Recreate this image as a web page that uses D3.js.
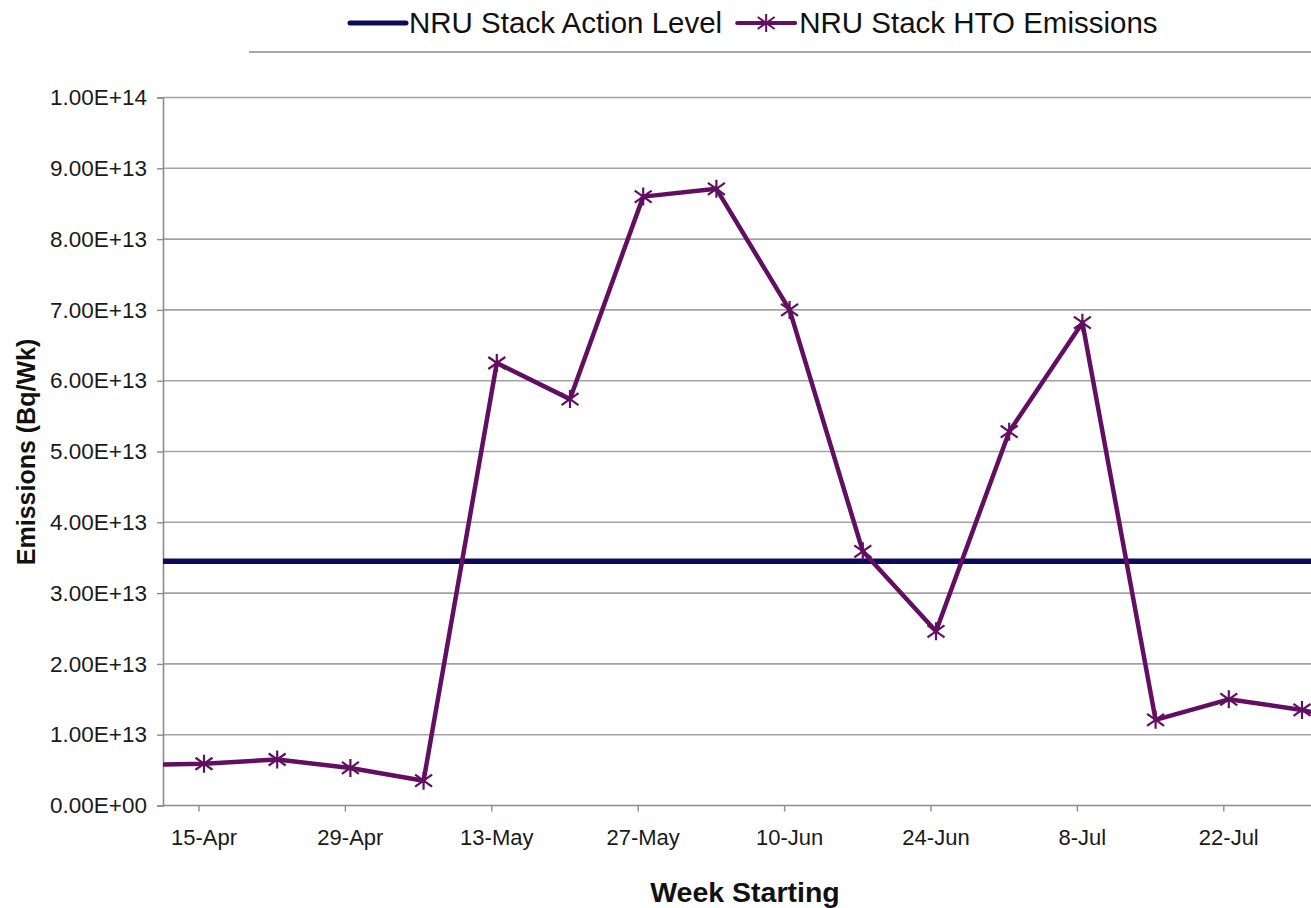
<!DOCTYPE html>
<html>
<head>
<meta charset="utf-8">
<script src="https://cdn.jsdelivr.net/npm/d3@7"></script>
<style>
  html, body { margin: 0; padding: 0; background: #fff; }
  svg { display: block; font-family: "Liberation Sans", Arial, sans-serif; }
</style>
</head>
<body>
<svg id="chart" width="1311" height="908"></svg>
<script>
// week starting dates (first and last fall outside the visible plot)
var weeks = ["8-Apr", "15-Apr", "22-Apr", "29-Apr", "6-May", "13-May", "20-May", "27-May",
  "3-Jun", "10-Jun", "17-Jun", "24-Jun", "1-Jul", "8-Jul", "15-Jul", "22-Jul", "29-Jul", "5-Aug"];
// NRU stack HTO emissions, Bq/week
var htoEmissions = [0.57e13, 0.59e13, 0.65e13, 0.53e13, 0.35e13, 6.25e13, 5.74e13, 8.60e13,
  8.71e13, 7.00e13, 3.59e13, 2.46e13, 5.28e13, 6.82e13, 1.21e13, 1.50e13, 1.35e13, 1.10e13];
var actionLevel = 3.45e13;
var yTicks = [0, 1e13, 2e13, 3e13, 4e13, 5e13, 6e13, 7e13, 8e13, 9e13, 1e14];
var labelledWeeks = ["15-Apr", "29-Apr", "13-May", "27-May", "10-Jun", "24-Jun", "8-Jul", "22-Jul"];

var svg = d3.select("#chart");
var pLeft = 163, pRight = 1311, pTop = 97.5, pBottom = 805.5;
var purple = "#620f62", navy = "#0b0b5a", grid = "#a3a3a3";

// visible window of the category axis (chart is cropped at both ends)
var x = d3.scaleLinear().domain([0.44, 16.123]).range([pLeft, pRight]);
var y = d3.scaleLinear().domain([0, 1e14]).range([pBottom, pTop]);

function sci(v) {
  if (v == 0) return "0.00E+00";
  var e = Math.floor(Math.log10(v) + 1e-9);
  return (v / Math.pow(10, e)).toFixed(2) + "E+" + (e < 10 ? "0" : "") + e;
}

svg.append("defs").append("clipPath").attr("id", "plot")
  .append("rect").attr("x", pLeft).attr("y", pTop - 20).attr("width", pRight - pLeft).attr("height", pBottom - pTop + 20);

// gridlines
svg.append("g").selectAll("line").data(yTicks.slice(1)).enter().append("line")
  .attr("x1", pLeft).attr("x2", pRight)
  .attr("y1", function (d) { return y(d); }).attr("y2", function (d) { return y(d); })
  .style("stroke", grid).style("stroke-width", 1.6);

// y axis
var yAxis = svg.append("g").attr("transform", "translate(" + pLeft + ",0)")
  .call(d3.axisLeft(y).tickValues(yTicks).tickFormat(sci).tickSize(6).tickPadding(10));
yAxis.select(".domain").style("stroke", "#8c8c8c").style("stroke-width", 1.6);
yAxis.selectAll(".tick line").style("stroke", "#8c8c8c").style("stroke-width", 1.4);
yAxis.selectAll("text").style("font-size", "22.5px").style("fill", "#1a1a1a")
  .style("font-family", "'Liberation Sans', Arial, sans-serif");

// x axis: tick marks sit a little left of the labelled weeks
var tickShift = -5;
var xg = svg.append("g");
xg.append("line").attr("x1", pLeft).attr("x2", pRight).attr("y1", pBottom).attr("y2", pBottom)
  .style("stroke", "#8c8c8c").style("stroke-width", 1.6);
xg.selectAll(".xt").data(labelledWeeks).enter().append("line").attr("class", "xt")
  .attr("x1", function (d) { return x(weeks.indexOf(d)) + tickShift; })
  .attr("x2", function (d) { return x(weeks.indexOf(d)) + tickShift; })
  .attr("y1", pBottom).attr("y2", pBottom + 6)
  .style("stroke", "#8c8c8c").style("stroke-width", 1.4);
xg.selectAll(".xl").data(labelledWeeks).enter().append("text").attr("class", "xl")
  .attr("x", function (d) { return x(weeks.indexOf(d)); })
  .attr("y", pBottom + 39)
  .attr("text-anchor", "middle").style("font-size", "22px").style("fill", "#1a1a1a")
  .text(function (d) { return d; });

// axis titles
svg.append("text").attr("x", 745).attr("y", 902).attr("text-anchor", "middle")
  .style("font-size", "28.5px").style("font-weight", "bold").style("fill", "#111")
  .text("Week Starting");
svg.append("text").attr("transform", "translate(35,452) rotate(-90)").attr("text-anchor", "middle")
  .style("font-size", "25px").style("font-weight", "bold").style("fill", "#111")
  .text("Emissions (Bq/Wk)");

var plot = svg.append("g").attr("clip-path", "url(#plot)");

// action level
plot.append("line").attr("x1", pLeft).attr("x2", pRight)
  .attr("y1", y(actionLevel)).attr("y2", y(actionLevel))
  .style("stroke", navy).style("stroke-width", 5.5);

// emissions series
var line = d3.line().x(function (d, i) { return x(i); }).y(function (d) { return y(d); });
plot.append("path").datum(htoEmissions).attr("d", line)
  .style("fill", "none").style("stroke", purple).style("stroke-width", 4.5).style("stroke-linejoin", "round");

var star = "M0,-9V9M-8.5,-6L8.5,6M-8.5,6L8.5,-6";
plot.selectAll(".pt").data(htoEmissions).enter().append("path").attr("class", "pt")
  .attr("transform", function (d, i) { return "translate(" + x(i) + "," + y(d) + ")"; })
  .attr("d", star).style("fill", "none").style("stroke", purple).style("stroke-width", 2.2);

// legend
var lg = svg.append("g");
lg.append("line").attr("x1", 350).attr("x2", 406).attr("y1", 23).attr("y2", 23)
  .style("stroke", navy).style("stroke-width", 5).style("stroke-linecap", "round");
var t1 = lg.append("text").attr("x", 409).attr("y", 33).style("font-size", "29.5px").style("fill", "#111")
  .text("NRU Stack Action Level");
var x2 = 409 + t1.node().getComputedTextLength() + 15;
lg.append("line").attr("x1", x2).attr("x2", x2 + 58).attr("y1", 23).attr("y2", 23)
  .style("stroke", purple).style("stroke-width", 4).style("stroke-linecap", "round");
lg.append("path").attr("transform", "translate(" + (x2 + 29) + ",23)").attr("d", star)
  .style("fill", "none").style("stroke", purple).style("stroke-width", 2);
lg.append("text").attr("x", x2 + 62).attr("y", 33).style("font-size", "29.5px").style("fill", "#111")
  .text("NRU Stack HTO Emissions");

// rule under the legend
svg.append("line").attr("x1", 249).attr("x2", 1311).attr("y1", 52).attr("y2", 52)
  .style("stroke", "#8c8c8c").style("stroke-width", 1.6);
</script>
</body>
</html>
